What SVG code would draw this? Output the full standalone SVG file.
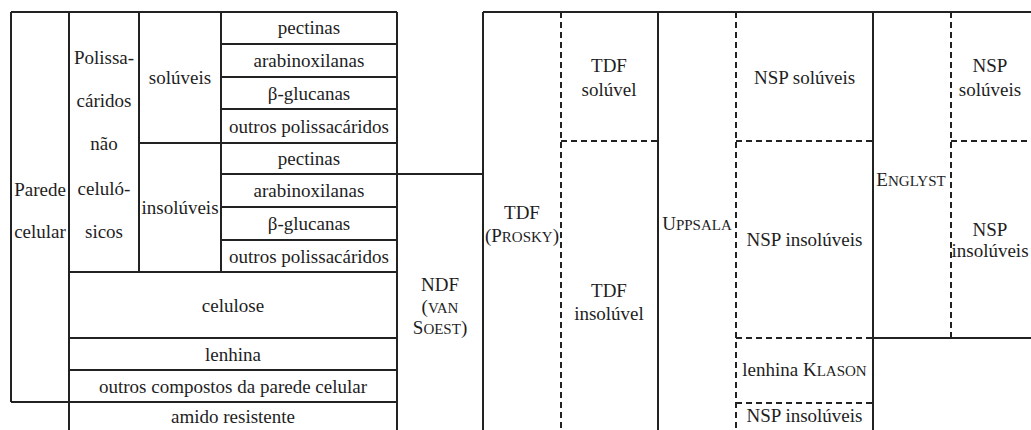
<svg xmlns="http://www.w3.org/2000/svg" width="1031" height="430" viewBox="0 0 1031 430">
<style>
.s{stroke:#222;stroke-width:2;fill:none}
.d{stroke:#222;stroke-width:2;fill:none;stroke-dasharray:6 4}
text{font-family:'Liberation Serif','Times New Roman',serif;font-size:19px;fill:#1e1e1e;text-anchor:middle}
.sc{font-size:15px}
</style>
<rect width="1031" height="430" fill="#fff"/>
<g id="connectors">
<path class="s" d="M11 12H397M11 12V402M69 12V430M139 12V272M221 12V272M397 12V430"/>
<path class="s" d="M221 44H397M221 77H397M221 109H397M139 143H397M221 174H482M221 207H397M221 240H397M69 272H397M69 338H397M69 370H397M11 402H397"/>
<path class="s" d="M483 12H1031M483 12V430M658 12V430M873 12V430M873 338H1031"/>
<path class="d" d="M561 12V430M736 12V430M951 12V338M561 141H658M736 141H873M951 141H1031M736 338H873M736 403H873"/>
</g>
<g id="parede"><text x="40" y="196">Parede</text><text x="40" y="238">celular</text></g>
<g id="polissacaridos"><text x="104" y="64">Polissa-</text><text x="104" y="107">cáridos</text><text x="104" y="150">não</text><text x="104" y="195">celuló-</text><text x="104" y="238">sicos</text></g>
<g id="soluveis"><text x="180" y="84">solúveis</text></g>
<g id="insoluveis"><text x="180" y="214">insolúveis</text></g>
<g id="s-pectinas"><text x="309" y="34">pectinas</text></g>
<g id="s-arabinoxilanas"><text x="309" y="67">arabinoxilanas</text></g>
<g id="s-glucanas"><text x="309" y="99.5">β-glucanas</text></g>
<g id="s-outros"><text x="309" y="132.5">outros polissacáridos</text></g>
<g id="i-pectinas"><text x="309" y="165">pectinas</text></g>
<g id="i-arabinoxilanas"><text x="309" y="197">arabinoxilanas</text></g>
<g id="i-glucanas"><text x="309" y="230">β-glucanas</text></g>
<g id="i-outros"><text x="309" y="262.5">outros polissacáridos</text></g>
<g id="celulose"><text x="233" y="311.5">celulose</text></g>
<g id="lenhina"><text x="233" y="360.5">lenhina</text></g>
<g id="outros-compostos"><text x="233" y="392.5">outros compostos da parede celular</text></g>
<g id="amido"><text x="233" y="423">amido resistente</text></g>
<g id="ndf"><text x="440" y="291">NDF</text><text x="440" y="313">(<tspan class="sc">VAN</tspan></text><text x="440" y="334">S<tspan class="sc">OEST</tspan>)</text></g>
<g id="tdf-prosky"><text x="522" y="219">TDF</text><text x="522" y="242">(P<tspan class="sc">ROSKY</tspan>)</text></g>
<g id="tdf-soluvel"><text x="609" y="72">TDF</text><text x="609" y="96">solúvel</text></g>
<g id="tdf-insoluvel"><text x="609" y="297">TDF</text><text x="609" y="320">insolúvel</text></g>
<g id="uppsala"><text x="697" y="230">U<tspan class="sc">PPSALA</tspan></text></g>
<g id="u-nsp-soluveis"><text x="804.5" y="84">NSP solúveis</text></g>
<g id="u-nsp-insoluveis"><text x="804.5" y="246">NSP insolúveis</text></g>
<g id="u-lenhina"><text x="804.5" y="376">lenhina K<tspan class="sc">LASON</tspan></text></g>
<g id="u-nsp-insoluveis2"><text x="804.5" y="422">NSP insolúveis</text></g>
<g id="englyst"><text x="911" y="186">E<tspan class="sc">NGLYST</tspan></text></g>
<g id="e-nsp-soluveis"><text x="990" y="72">NSP</text><text x="990" y="96">solúveis</text></g>
<g id="e-nsp-insoluveis"><text x="990" y="236">NSP</text><text x="990" y="257">insolúveis</text></g>
</svg>
